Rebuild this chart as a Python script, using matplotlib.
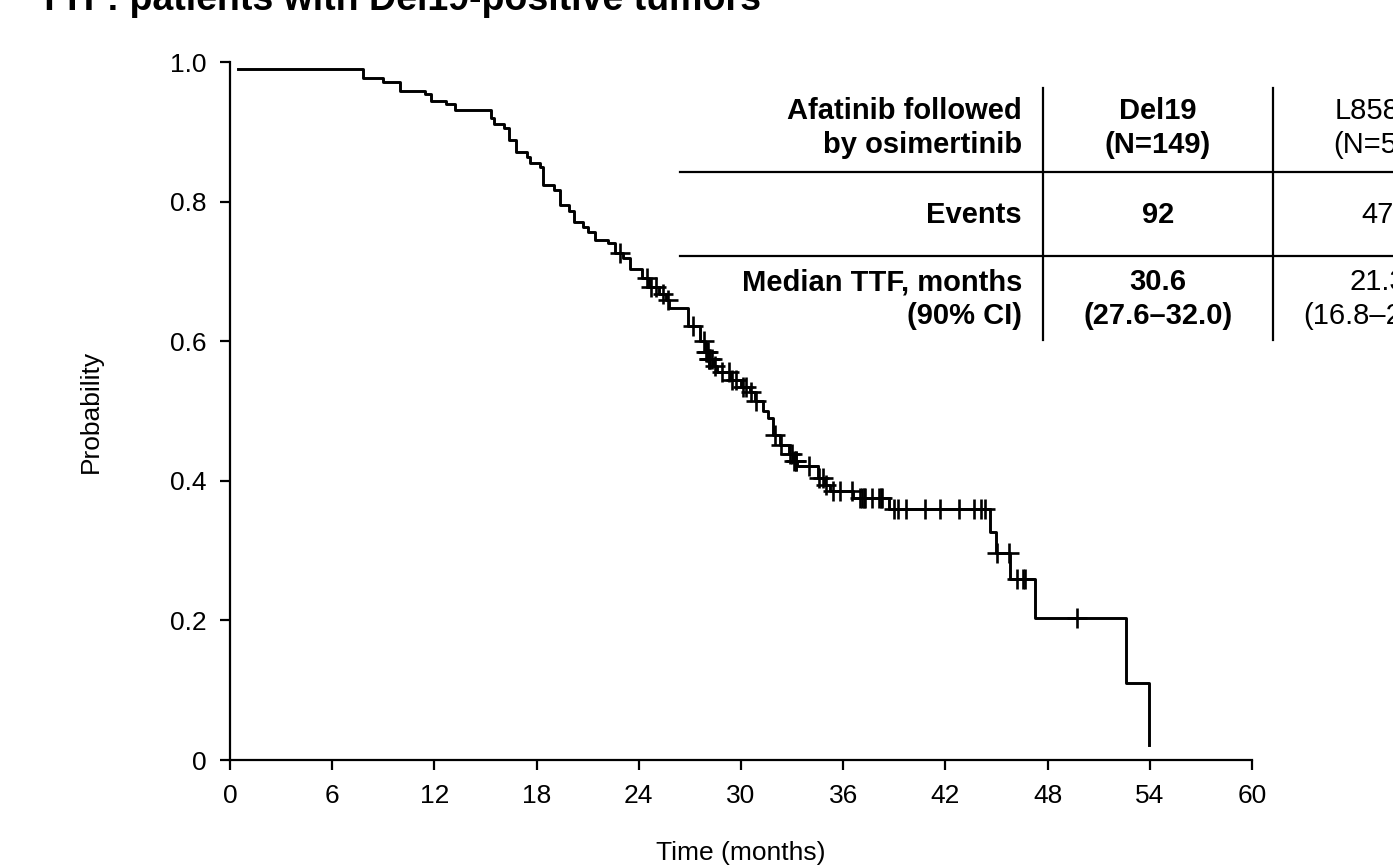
import numpy as np
import matplotlib
matplotlib.use("Agg")
import matplotlib.pyplot as plt

plt.rcParams['font.family'] = ['Liberation Sans', 'DejaVu Sans']

# KM curve: time of each step and survival level after it
step_t = [0.47, 7.8, 9.0, 10.0, 11.45, 11.8, 12.7, 13.2, 15.3, 15.5, 16.1, 16.4,
          16.8, 17.45, 17.6, 18.2, 18.4, 19.0, 19.4, 19.9, 20.2, 20.7, 21.0, 21.4,
          22.2, 22.6, 23.1, 23.5, 24.2, 24.6, 25.2, 25.6, 25.8, 26.9, 27.6, 27.9,
          28.1, 28.4, 28.6, 29.4, 30.0, 30.5, 30.8, 31.3, 31.6, 31.9, 32.3, 32.8,
          33.1, 33.3, 34.5, 34.9, 35.2, 36.6, 38.7, 44.6, 45.0, 45.8, 47.26, 52.6,
          53.96]
step_s = [0.99, 0.977, 0.971, 0.958, 0.954, 0.944, 0.940, 0.931, 0.920, 0.911, 0.905, 0.888,
          0.871, 0.864, 0.855, 0.850, 0.824, 0.817, 0.795, 0.786, 0.771, 0.764, 0.757, 0.745,
          0.740, 0.727, 0.719, 0.703, 0.690, 0.678, 0.668, 0.659, 0.648, 0.622, 0.600, 0.585,
          0.575, 0.565, 0.556, 0.545, 0.535, 0.527, 0.515, 0.500, 0.490, 0.465, 0.452, 0.438,
          0.428, 0.421, 0.404, 0.394, 0.385, 0.375, 0.360, 0.327, 0.297, 0.259, 0.203, 0.111,
          0.0215]

# censored observations (months)
cens_t = [22.9, 24.5, 24.7, 25.0, 25.4, 25.7, 27.2, 27.8, 27.95, 28.0, 28.05, 28.1,
          28.15, 28.2, 28.3, 28.5, 28.9, 29.3, 29.5, 29.7, 30.1, 30.3, 30.6, 30.9,
          32.0, 32.35, 32.9, 33.0, 33.1, 33.2, 33.25, 34.0, 34.6, 34.8, 35.0, 35.4,
          35.8, 36.5, 37.0, 37.1, 37.2, 37.3, 37.7, 38.1, 38.2, 38.3, 39.0, 39.2,
          39.7, 40.8, 41.7, 42.8, 43.7, 44.1, 44.3, 45.05, 45.75, 46.2, 46.55, 46.65,
          49.7]

x_ticks = [0, 6, 12, 18, 24, 30, 36, 42, 48, 54, 60]
y_ticks = [0, 0.2, 0.4, 0.6, 0.8, 1.0]
y_labels = ['0', '0.2', '0.4', '0.6', '0.8', '1.0']

table_rows = ['Afatinib followed\nby osimertinib', 'Events', 'Median TTF, months\n(90% CI)']
del19_col = ['Del19\n(N=149)', '92', '30.6\n(27.6–32.0)']
l858r_col = ['L858R\n(N=55)', '47', '21.3\n(16.8–26.9)']

W, H = 1393, 865
fig = plt.figure(figsize=(W / 100, H / 100), dpi=100)
ax = fig.add_axes([230 / W, 1 - 760 / H, (1252 - 230) / W, (760 - 62) / H])

ax.step(step_t, step_s, where='post', color='black', lw=2.1)
idx = np.searchsorted(step_t, cens_t, side='right') - 1
cens_s = np.array(step_s)[idx]
ax.plot(cens_t, cens_s, '+', color='black', ms=15, mew=1.9)

ax.set_xlim(0, 60)
ax.set_ylim(0, 1.0)
ax.set_xticks(x_ticks)
ax.set_yticks(y_ticks)
ax.set_yticklabels(y_labels)
for s in ['top', 'right']:
    ax.spines[s].set_visible(False)
for s in ['left', 'bottom']:
    ax.spines[s].set_linewidth(1.6)
ax.tick_params(direction='out', length=7, width=1.6, labelsize=19, pad=10)
ax.set_xlabel('Time (months)', fontsize=19, labelpad=24)
ax.set_ylabel('Probability', fontsize=19, labelpad=48)

# title (cut by top edge in the original)
fig.text(38 / W, 1 - 10 / H, 'TTF: patients with Del19-positive tumors',
         fontsize=27, fontweight='bold', va='baseline', ha='left')

# table
def fx(px):
    return px / W

def fy(py):
    return 1 - py / H

row_y = [128, 215, 299]
for i in range(3):
    fig.text(fx(1022), fy(row_y[i]), table_rows[i], ha='right', va='center',
             fontsize=21, fontweight='bold', linespacing=1.25)
    fig.text(fx(1158), fy(row_y[i]), del19_col[i], ha='center', va='center',
             fontsize=21, fontweight='bold', linespacing=1.25)
    fig.text(fx(1378), fy(row_y[i]), l858r_col[i], ha='center', va='center',
             fontsize=21, linespacing=1.25)

for yy in [172, 256]:
    fig.add_artist(plt.Line2D([fx(680), fx(W)], [fy(yy), fy(yy)], color='black', lw=1.6))
for xx in [1043, 1273]:
    fig.add_artist(plt.Line2D([fx(xx), fx(xx)], [fy(88), fy(340)], color='black', lw=1.6))

fig.savefig('out.png', dpi=100)
